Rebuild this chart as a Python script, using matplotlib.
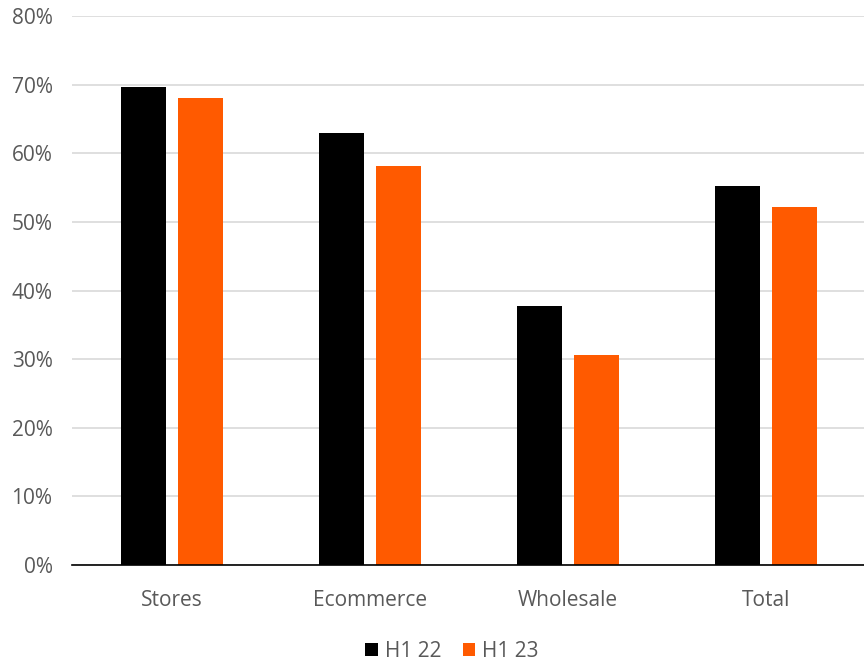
import matplotlib.pyplot as plt
import numpy as np

categories = ['Stores', 'Ecommerce', 'Wholesale', 'Total']
h1_22 = [69.6, 62.9, 37.8, 55.2]
h1_23 = [68.1, 58.1, 30.6, 52.1]

plt.rcParams['font.family'] = ['Open Sans', 'DejaVu Sans']
grey = '#595959'

fig = plt.figure(figsize=(8.64, 6.62), dpi=100)
ax = fig.add_axes([72/864, 1 - 565/662, 1 - 72/864, 549/662])

x = np.arange(len(categories))
w = 0.227
off = 0.03 + w/2
ax.bar(x - off, h1_22, w, color='black', label='H1 22', zorder=3)
ax.bar(x + off, h1_23, w, color='#FF5A00', label='H1 23', zorder=3)

ax.set_xlim(-0.505, len(categories) - 0.505)
ax.set_ylim(0, 80)
ax.set_yticks(range(0, 81, 10))
ax.set_yticklabels([f'{v}%' for v in range(0, 81, 10)])
ax.set_xticks(x)
ax.set_xticklabels(categories)
ax.grid(axis='y', color='#D9D9D9', linewidth=1.2, zorder=0)
for s in ['top', 'right', 'left']:
    ax.spines[s].set_visible(False)
ax.spines['bottom'].set_color('black')
ax.spines['bottom'].set_linewidth(1.2)
ax.spines['bottom'].set_zorder(4)
ax.tick_params(axis='both', length=0, labelsize=15, colors=grey, pad=14)
ax.tick_params(axis='x', pad=18)

ax.legend(loc='lower center', bbox_to_anchor=(0.48, -0.21), ncol=2, frameon=False,
          fontsize=15, labelcolor=grey, handlelength=0.6, handleheight=0.6,
          handletextpad=0.35, columnspacing=1.0)

fig.savefig('out.png', dpi=100)
